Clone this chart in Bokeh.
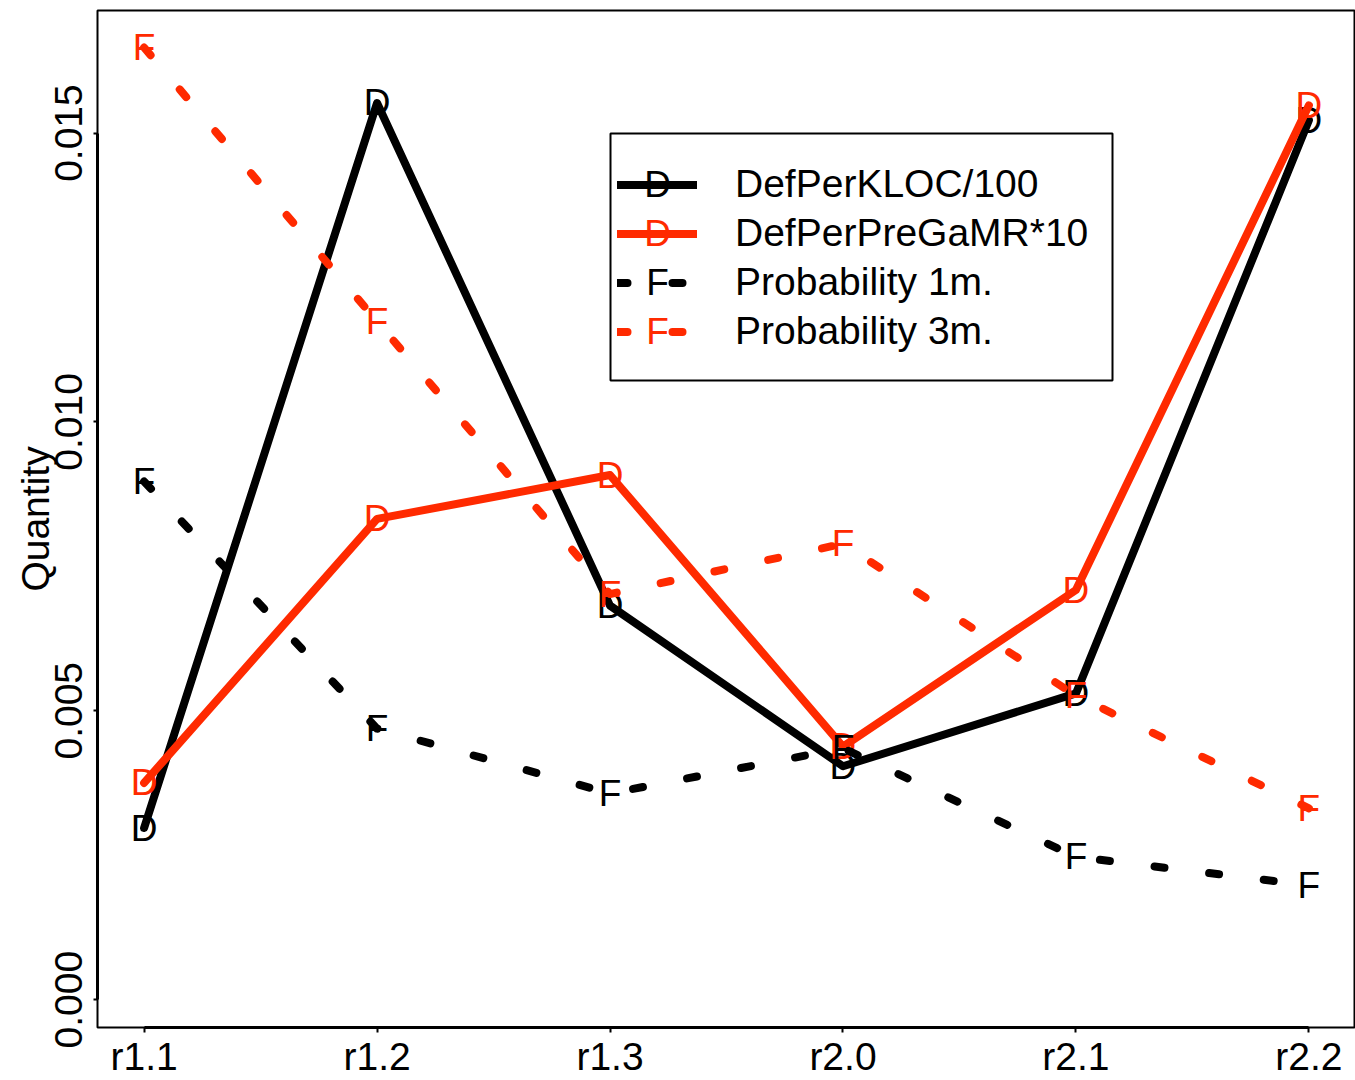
from bokeh.plotting import figure
from bokeh.models import (Range1d, FixedTicker, Legend, LegendItem, Label,
                          ColumnDataSource, BoxAnnotation)
from bokeh.core.properties import value
from bokeh.embed import file_html
from bokeh.resources import INLINE

# ---------------- data ----------------
categories = ["r1.1", "r1.2", "r1.3", "r2.0", "r2.1", "r2.2"]
def_per_kloc = [0.00297, 0.01552, 0.00682, 0.00404, 0.00530, 0.01522]
def_per_pregamr = [0.00375, 0.00832, 0.00908, 0.00438, 0.00709, 0.01548]
prob_1m = [0.00897, 0.00469, 0.00357, 0.00435, 0.00247, 0.00198]
prob_3m = [0.01648, 0.01174, 0.00702, 0.00789, 0.00526, 0.00331]
y_ticks = [0.0, 0.005, 0.010, 0.015]
y_tick_labels = ["0.000", "0.005", "0.010", "0.015"]
series_names = ["DefPerKLOC/100", "DefPerPreGaMR*10", "Probability 1m.", "Probability 3m."]
series_marks = ["D", "D", "F", "F"]

# ---------------- style ----------------
RED = "#ff2a00"
BLACK = "#000000"
FONT = "Liberation Sans"
FS = "39px"
MARK_FS = "37px"

W, H = 1355, 1080
BL, BT, BB = 97, 10, 50
FH = H - BT - BB  # frame height

x_idx = list(range(1, len(categories) + 1))

p = figure(width=W, height=H, output_backend="svg", toolbar_location=None,
           x_range=Range1d(0.8, 6.2), y_range=Range1d(-0.000483, 0.017121),
           min_border_left=BL, min_border_right=0, min_border_top=BT,
           min_border_bottom=BB, background_fill_color="white",
           border_fill_color="white")
p.grid.visible = False
p.outline_line_color = BLACK
p.outline_line_width = 2
p.outline_line_alpha = 1.0

# axes
xa = p.xaxis[0]
xa.ticker = FixedTicker(ticks=x_idx)
xa.major_label_overrides = {i: c for i, c in zip(x_idx, categories)}
xa.bounds = (1, 6)
xa.axis_line_width = 3
xa.major_tick_out = 5
xa.major_tick_in = 0
xa.major_tick_line_width = 2
xa.minor_tick_line_color = None
xa.major_label_standoff = 2
xa.major_label_text_font = FONT
xa.major_label_text_font_size = FS
xa.major_label_text_color = BLACK

ya = p.yaxis[0]
ya.ticker = FixedTicker(ticks=y_ticks)
ya.major_label_overrides = {t: l for t, l in zip(y_ticks, y_tick_labels)}
ya.bounds = (0, 0.015)
ya.axis_line_width = 3
ya.major_tick_out = 4
ya.major_tick_in = 0
ya.major_tick_line_width = 2
ya.minor_tick_line_color = None
ya.major_label_orientation = "vertical"
ya.major_label_standoff = 11
ya.major_label_text_font = FONT
ya.major_label_text_font_size = FS
ya.major_label_text_color = BLACK
ya.axis_label = "Quantity"
ya.axis_label_text_font = FONT
ya.axis_label_text_font_size = FS
ya.axis_label_text_font_style = "normal"
ya.axis_label_text_color = BLACK
ya.axis_label_standoff = -4

src = ColumnDataSource(dict(x=x_idx, kloc=def_per_kloc, pregamr=def_per_pregamr,
                            p1=prob_1m, p3=prob_3m,
                            mD=["D"] * len(x_idx), mF=["F"] * len(x_idx)))

cols = ["kloc", "pregamr", "p1", "p3"]
colors = [BLACK, RED, BLACK, RED]
dashes = ["solid", "solid", "10 45", "10 45"]

line_renderers = []
for col, c, d, m in zip(cols, colors, dashes, series_marks):
    r = p.line("x", col, source=src, line_color=c, line_width=8,
               line_dash=d, line_cap="round", line_join="round")
    line_renderers.append(r)
    p.text("x", col, text="mD" if m == "D" else "mF", source=src,
           text_color=c, text_font=value(FONT), text_font_size=MARK_FS,
           text_align="center", text_baseline="middle")

# ---------------- legend (frame-relative screen px, y measured from bottom) ----------------
BOX_L, BOX_R, BOX_T, BOX_B = 513, 1015, 126, 373   # from frame left / frame top
box = BoxAnnotation(left=BOX_L, right=BOX_R, top=FH - BOX_T, bottom=FH - BOX_B,
                    left_units="screen", right_units="screen",
                    top_units="screen", bottom_units="screen",
                    fill_color="white", fill_alpha=1.0,
                    line_color=BLACK, line_width=2, line_alpha=1.0)
p.add_layout(box)

ROW0 = 177      # first row centre from frame top
PITCH = 49
GW = 80
LEG_X = 520
LEG_H = 4 * PITCH
leg_top = ROW0 - PITCH / 2
legend = Legend(items=[LegendItem(label=n, renderers=[r])
                       for n, r in zip(series_names, line_renderers)],
                location=(LEG_X, FH - leg_top - LEG_H), margin=0, padding=0,
                glyph_width=GW, glyph_height=PITCH, label_height=PITCH,
                spacing=0, label_standoff=38,
                label_text_font=FONT, label_text_font_size=FS,
                label_text_color=BLACK, border_line_color=None,
                background_fill_alpha=0.0)
p.add_layout(legend, "center")

for i, (m, c) in enumerate(zip(series_marks, colors)):
    cy = ROW0 + i * PITCH
    p.add_layout(Label(x=LEG_X + GW / 2, y=FH - cy, x_units="screen",
                       y_units="screen", text=m, text_color=c,
                       text_font=FONT, text_font_size=MARK_FS,
                       text_align="center", text_baseline="middle",
                       level="overlay"))

open("out.html", "w").write(file_html(p, INLINE))
